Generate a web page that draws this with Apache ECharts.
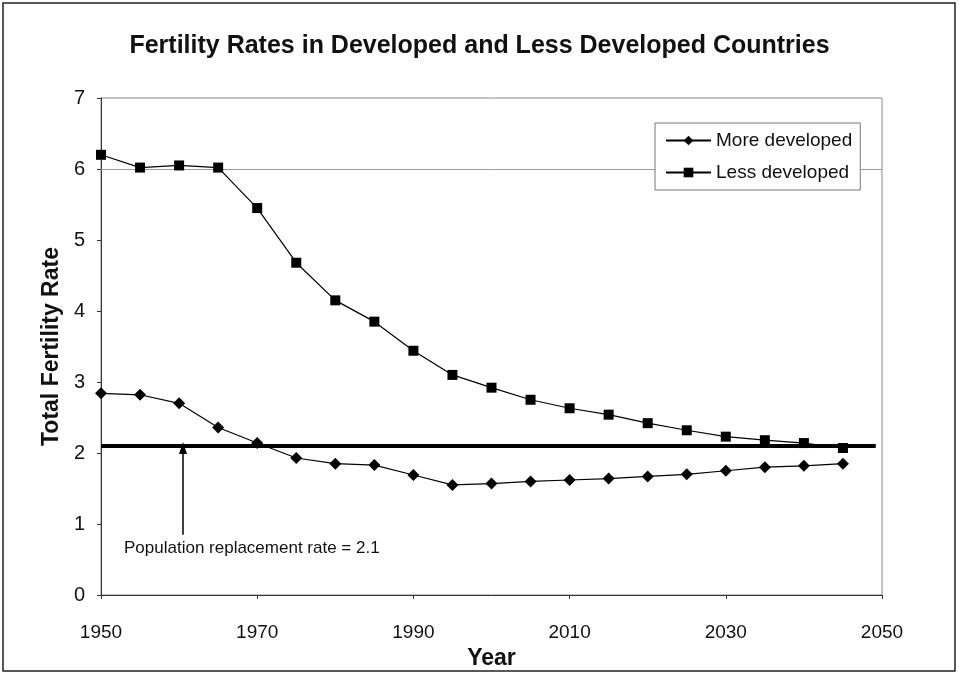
<!DOCTYPE html>
<html>
<head>
<meta charset="utf-8">
<script src="https://cdn.jsdelivr.net/npm/echarts@6/dist/echarts.min.js"></script>
<style>
  html, body { margin: 0; padding: 0; background: #fff; }
  #chart { width: 959px; height: 677px; }
</style>
</head>
<body>
<div id="chart"></div>
<script>
// Total fertility rate, five-year steps
const years = [1950, 1955, 1960, 1965, 1970, 1975, 1980, 1985, 1990, 1995,
               2000, 2005, 2010, 2015, 2020, 2025, 2030, 2035, 2040, 2045];
const moreDeveloped = [2.84, 2.82, 2.70, 2.36, 2.14, 1.93, 1.85, 1.83, 1.69, 1.55,
                       1.57, 1.60, 1.62, 1.64, 1.67, 1.70, 1.75, 1.80, 1.82, 1.85];
const lessDeveloped = [6.20, 6.02, 6.05, 6.02, 5.45, 4.68, 4.15, 3.85, 3.44, 3.10,
                       2.92, 2.75, 2.63, 2.54, 2.42, 2.32, 2.23, 2.18, 2.14, 2.07];
const replacementRate = 2.1;
const replacementSpan = [1950, 2049.2];
const arrowYear = 1960.5;
const arrowFrom = 0.85;
const xTicks = { min: 1950, max: 2050, step: 20 };
const yTicks = { min: 0, max: 7, step: 1 };

const pair = (xs, ys) => xs.map((x, i) => [x, ys[i]]);
const FONT = 'Liberation Sans, Arial, sans-serif';

const chart = echarts.init(document.getElementById('chart'), null, { renderer: 'canvas' });

chart.setOption({
  animation: false,
  backgroundColor: '#ffffff',
  title: {
    text: 'Fertility Rates in Developed and Less Developed Countries',
    left: 'center',
    top: 29,
    textStyle: { fontFamily: FONT, fontSize: 25, fontWeight: 'bold', color: '#111' }
  },
  grid: {
    left: 101, right: 77, top: 98, bottom: 82,
    show: true, borderColor: '#8a8a8a', borderWidth: 1, backgroundColor: 'transparent'
  },
  legend: {
    orient: 'vertical',
    left: 655, top: 123,
    padding: [8, 8, 8, 10],
    itemGap: 13,
    itemWidth: 45, itemHeight: 12,
    backgroundColor: '#fff',
    borderColor: '#777', borderWidth: 1,
    z: 20,
    textStyle: { fontFamily: FONT, fontSize: 19, color: '#111' },
    data: ['More developed', 'Less developed']
  },
  xAxis: {
    type: 'value',
    min: xTicks.min, max: xTicks.max, interval: xTicks.step,
    name: 'Year',
    nameLocation: 'middle',
    nameGap: 51,
    nameTextStyle: { fontFamily: FONT, fontSize: 23, fontWeight: 'bold', color: '#111' },
    axisLine: { lineStyle: { color: '#333', width: 1 } },
    axisTick: { show: true, length: 4, inside: false, lineStyle: { color: '#333' } },
    axisLabel: { fontFamily: FONT, fontSize: 19, color: '#111', margin: 28, formatter: v => String(v) },
    splitLine: { show: false }
  },
  yAxis: {
    type: 'value',
    min: yTicks.min, max: yTicks.max, interval: yTicks.step,
    name: 'Total Fertility Rate',
    nameLocation: 'middle',
    nameGap: 37,
    nameTextStyle: { fontFamily: FONT, fontSize: 23, fontWeight: 'bold', color: '#111' },
    axisLine: { show: true, lineStyle: { color: '#333', width: 1 } },
    axisTick: { show: true, length: 4, lineStyle: { color: '#333' } },
    axisLabel: { fontFamily: FONT, fontSize: 20, color: '#111', margin: 16 },
    splitLine: { show: false }
  },
  series: [
    {
      name: 'More developed',
      type: 'line',
      data: pair(years, moreDeveloped),
      symbol: 'diamond',
      symbolSize: 12,
      itemStyle: { color: '#000' },
      lineStyle: { color: '#000', width: 1.2 },
      z: 5
    },
    {
      name: 'Less developed',
      type: 'line',
      data: pair(years, lessDeveloped),
      symbol: 'rect',
      symbolSize: 10,
      itemStyle: { color: '#000' },
      lineStyle: { color: '#000', width: 1.2 },
      z: 5
    },
    {
      // reference lines: grid line at 6, replacement rate, arrow
      name: 'refs',
      type: 'line',
      data: [],
      silent: true,
      z: 1,
      markLine: {
        silent: true,
        z: 1,
        label: { show: false },
        data: [
          [
            { coord: [xTicks.min, 6], symbol: 'none', lineStyle: { color: '#9a9a9a', width: 1, type: 'solid' } },
            { coord: [xTicks.max, 6], symbol: 'none' }
          ],
          [
            { coord: [replacementSpan[0], replacementRate], symbol: 'none', lineStyle: { color: '#000', width: 4, type: 'solid' } },
            { coord: [replacementSpan[1], replacementRate], symbol: 'none' }
          ],
          [
            { coord: [arrowYear, arrowFrom], symbol: 'none', lineStyle: { color: '#000', width: 1.5, type: 'solid' } },
            { coord: [arrowYear, replacementRate - 0.03], symbol: 'triangle', symbolSize: [8, 12] }
          ]
        ]
      }
    }
  ],
  graphic: [
    {
      type: 'text',
      left: 124, top: 540,
      style: { text: 'Population replacement rate = 2.1', font: '17px ' + FONT, fill: '#111' }
    },
    {
      type: 'rect',
      shape: { x: 3, y: 3, width: 952, height: 668 },
      style: { fill: 'none', stroke: '#222', lineWidth: 1.5 },
      silent: true
    }
  ]
});
</script>
</body>
</html>
